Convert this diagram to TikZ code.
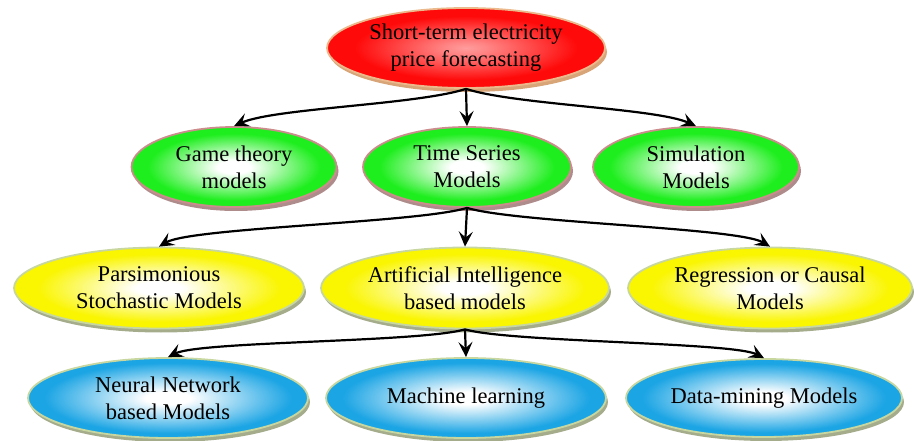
\documentclass[tikz,border=0pt]{standalone}
\usepackage{fontspec}
\setmainfont{Liberation Serif}
\usetikzlibrary{shapes.geometric,shadows,arrows.meta}
\definecolor{cred}{RGB}{255,10,10}
\definecolor{cgreen}{RGB}{30,238,30}
\definecolor{cyellow}{RGB}{250,245,0}
\definecolor{cblue}{RGB}{28,165,228}
\definecolor{bred}{RGB}{235,185,140}
\definecolor{sred}{RGB}{215,165,120}
\definecolor{bgreen}{RGB}{205,140,140}
\definecolor{sgreen}{RGB}{175,140,140}
\definecolor{byel}{RGB}{200,215,160}
\definecolor{syel}{RGB}{165,172,140}
\pgfdeclareradialshading{redsh}{\pgfpoint{0bp}{0bp}}{color(0bp)=(white!60!cred); color(4bp)=(white!50!cred); color(20bp)=(cred); color(50bp)=(cred)}
\pgfdeclareradialshading{greensh}{\pgfpoint{0bp}{0bp}}{color(0bp)=(white); color(4bp)=(white); color(21bp)=(cgreen); color(50bp)=(cgreen)}
\pgfdeclareradialshading{yelsh}{\pgfpoint{0bp}{0bp}}{color(0bp)=(white); color(4bp)=(white); color(21bp)=(cyellow); color(50bp)=(cyellow)}
\pgfdeclareradialshading{bluesh}{\pgfpoint{0bp}{0bp}}{color(0bp)=(white); color(4bp)=(white); color(22bp)=(cblue); color(50bp)=(cblue)}
\tikzset{
  ell/.style={ellipse, inner sep=0pt, align=center, line width=1.8pt,
    font=\fontsize{22.5}{27}\selectfont, text=black},
  rednode/.style={ell, draw=bred, shading=redsh,
    drop shadow={shadow xshift=2pt,shadow yshift=-4pt,fill=sred,opacity=1}},
  greennode/.style={ell, draw=bgreen, shading=greensh,
    drop shadow={shadow xshift=2pt,shadow yshift=-4pt,fill=sgreen,opacity=1}},
  yelnode/.style={ell, draw=byel, shading=yelsh,
    drop shadow={shadow xshift=2pt,shadow yshift=-4pt,fill=syel,opacity=1}},
  bluenode/.style={ell, draw=byel, shading=bluesh,
    drop shadow={shadow xshift=2pt,shadow yshift=-4pt,fill=syel,opacity=1}},
  arr/.style={line width=2.2pt, -{Stealth[length=15pt,width=14pt,inset=6pt]}}
}
\begin{document}
\begin{tikzpicture}[x=1pt,y=-1pt]
\useasboundingbox (0,0) rectangle (914,441);
% level 0
\node[rednode, minimum width=278pt, minimum height=80pt] (top) at (466,48) {Short-term electricity\\price forecasting};
% level 1
\node[greennode, minimum width=205pt, minimum height=80pt] (game) at (234,167) {Game theory\\models};
\node[greennode, minimum width=208pt, minimum height=80pt] (ts) at (467,167) {Time Series\\Models};
\node[greennode, minimum width=206pt, minimum height=80pt] (sim) at (696,167) {Simulation\\Models};
% level 2
\node[yelnode, minimum width=290pt, minimum height=81pt] (pars) at (159,288) {Parsimonious\\Stochastic Models};
\node[yelnode, minimum width=288pt, minimum height=81pt] (ai) at (465,288) {Artificial Intelligence\\based models};
\node[yelnode, minimum width=284pt, minimum height=81pt] (reg) at (770,288) {Regression or Causal\\Models};
% level 3
\node[bluenode, minimum width=280pt, minimum height=80pt] (nn) at (168,398) {Neural Network\\based Models};
\node[bluenode, minimum width=280pt, minimum height=80pt] (ml) at (466,398) {Machine learning};
\node[bluenode, minimum width=276pt, minimum height=78pt] (dm) at (764,398) {Data-mining Models};
% connectors level 0 -> 1
\draw[arr] (top.south) .. controls +(-50,16) and +(40,-18) .. (game.north);
\draw[arr] (top.south) -- (ts.north);
\draw[arr] (top.south) .. controls +(50,16) and +(-40,-18) .. (sim.north);
% connectors level 1 -> 2
\draw[arr] (ts.south) .. controls +(-50,15) and +(32,-19) .. (pars.north);
\draw[arr] (ts.south) -- (ai.north);
\draw[arr] (ts.south) .. controls +(50,15) and +(-32,-19) .. (reg.north);
% connectors level 2 -> 3
\draw[arr] (ai.south) .. controls +(-46,13) and +(32,-16) .. (nn.north);
\draw[arr] (ai.south) -- (ml.north);
\draw[arr] (ai.south) .. controls +(46,13) and +(-31,-16) .. (dm.north);
\end{tikzpicture}
\end{document}
